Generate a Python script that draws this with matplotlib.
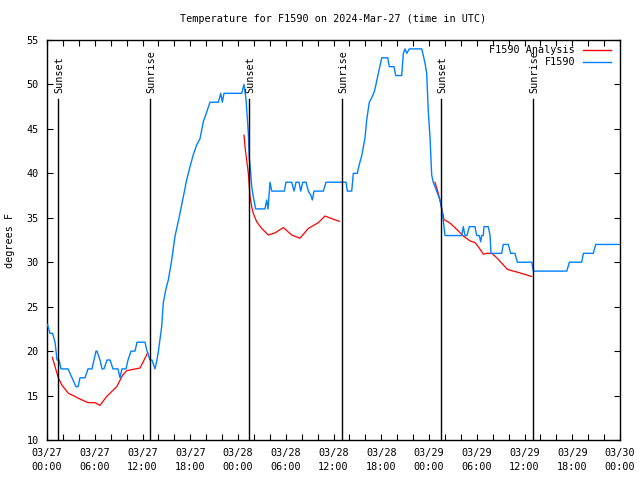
import numpy as np
import matplotlib
matplotlib.use("Agg")
import matplotlib.pyplot as plt
from matplotlib.lines import Line2D

# ---- data (hours since 2024-03-27 00:00 UTC) ----
obs_hours = [0.06, 0.38, 0.69, 1.01, 1.26, 1.51, 1.76, 2.64, 3.14, 3.64, 3.90, 4.15, 4.78,
             5.15, 5.65, 6.16, 6.28, 6.66, 6.91, 7.16, 7.54, 7.92, 8.29, 8.92, 9.17, 9.42,
             9.68, 9.93, 10.18, 10.56, 11.06, 11.31, 12.31, 12.57, 12.94, 13.19, 13.57, 13.82,
             14.00, 14.41, 14.61, 14.92, 15.24, 15.67, 16.08, 16.71, 17.13, 17.55, 17.97,
             18.38, 18.81, 19.23, 19.64, 20.07, 20.48, 21.53, 21.83, 22.03, 22.24, 24.47,
             24.76, 25.01, 25.15, 25.30, 25.42, 25.60, 25.72, 25.92, 26.22, 27.39, 27.60,
             27.77, 28.02, 28.24, 29.82, 30.03, 30.75, 31.04, 31.29, 31.67, 31.88, 32.13,
             32.55, 32.84, 33.17, 33.34, 33.55, 34.72, 35.06, 37.57, 37.74, 38.29, 38.49,
             38.99, 39.24, 39.55, 39.96, 40.17, 40.50, 40.80, 41.13, 41.34, 41.63, 42.06,
             42.81, 43.01, 43.60, 43.82, 44.57, 44.77, 44.99, 45.20, 45.53, 47.09, 47.50,
             47.71, 47.91, 48.13, 48.34, 48.54, 48.75, 48.97, 49.17, 49.38, 49.60, 49.80,
             50.01, 52.11, 52.31, 52.52, 52.77, 53.06, 53.78, 53.99, 54.32, 54.49, 54.62,
             54.82, 54.91, 55.45, 55.67, 55.79, 57.13, 57.33, 57.96, 58.26, 58.80, 59.10,
             60.91, 61.11, 65.31, 65.64, 67.19, 67.40, 68.65, 68.95, 72.00]
obs_temp = [23, 22, 22, 21, 19, 19, 18, 18, 17, 16, 16, 17, 17,
            18, 18, 20, 20, 19, 18, 18, 19, 19, 18, 18, 17, 18,
            18, 18, 19, 20, 20, 21, 21, 20, 19, 19, 18, 19,
            20, 22.75, 25.4, 26.9, 28, 30.25, 32.9, 35.5, 37.4, 39.25, 40.75,
            42.1, 43.2, 43.9, 45.8, 46.9, 48, 48, 49, 48, 49, 49,
            50, 48.3, 46.5, 44.5, 41.7, 40, 38.5, 37.4, 36, 36, 37,
            36, 39, 38, 38, 39, 39, 38, 39, 39, 38, 39,
            39, 38, 37.5, 37, 38, 38, 39, 39, 38, 38, 40,
            40, 41, 42, 44, 46, 48, 48.5, 49.2, 50, 51.25, 53,
            53, 52, 52, 51, 51, 53.5, 54, 53.5, 54, 54, 52.4,
            51.25, 47, 44, 39.8, 39, 38.5, 38, 37.5, 37, 36, 34.6,
            33, 33, 34, 33, 33, 34, 34, 33, 33, 32.3, 33,
            33, 34, 34, 33, 31, 31, 32, 32, 31, 31, 30,
            30, 29, 29, 30, 30, 31, 31, 32, 32]

ana_hours = [0.67, 1.42, 1.85, 2.68, 3.30, 4.15, 5.19, 6.03, 6.66, 7.50, 8.76, 9.51, 10.01,
             11.69, 12.65, np.nan,
             24.75, 24.88, 25.09, 25.30, 25.51, 25.72, 25.92, 26.35, 26.98, 27.81, 28.65,
             29.69, 30.75, 31.79, 32.84, 34.09, 34.93, 35.78, 36.73, np.nan,
             48.75, 49.17, 49.47, 49.72, 49.89, 50.64, 51.48, 52.31, 53.15, 53.78, 54.20,
             54.83, 55.25, 55.88, 56.51, 57.14, 57.84, 58.60, 59.44, 60.28, 60.91]
ana_temp = [19.3, 17.0, 16.2, 15.25, 15.0, 14.6, 14.2, 14.2, 13.9, 14.9, 16.0, 17.3, 17.8,
            18.1, 19.8, np.nan,
            44.3, 43.0, 41.5, 40.0, 37.4, 36.25, 35.5, 34.56, 33.8, 33.06, 33.3,
            33.9, 33.06, 32.7, 33.8, 34.45, 35.2, 34.9, 34.6, np.nan,
            39.0, 37.75, 36.6, 35.5, 34.8, 34.4, 33.7, 32.95, 32.4, 32.2, 31.75,
            30.9, 31.0, 31.0, 30.5, 29.9, 29.2, 29.0, 28.8, 28.56, 28.4]

event_hours = [1.38, 12.94, 25.38, 37.07, 49.51, 61.07]
event_names = ["Sunset", "Sunrise", "Sunset", "Sunrise", "Sunset", "Sunrise"]

tick_hours = list(range(0, 73, 6))
tick_labels = ["03/27\n00:00", "03/27\n06:00", "03/27\n12:00", "03/27\n18:00",
               "03/28\n00:00", "03/28\n06:00", "03/28\n12:00", "03/28\n18:00",
               "03/29\n00:00", "03/29\n06:00", "03/29\n12:00", "03/29\n18:00",
               "03/30\n00:00"]

FONT = "DejaVu Sans Mono"
FS = 7.3
BLUE = "#0080ff"
RED = "#ff0000"

fig = plt.figure(figsize=(6.4, 4.8), dpi=100)
ax = fig.add_axes([47/640, 1-440/480, (620-47)/640, 400/480])

ax.plot(ana_hours, ana_temp, color=RED, lw=0.9, zorder=2)
ax.plot(obs_hours, obs_temp, color=BLUE, lw=1.0, zorder=3)

for h, name in zip(event_hours, event_names):
    ax.plot([h, h], [0, 0.852], color="black", lw=1.0, zorder=4,
            transform=ax.get_xaxis_transform())
    ax.text(h + 0.2, 0.868, name, rotation=90, ha="center", va="bottom",
            fontsize=FS, family=FONT, transform=ax.get_xaxis_transform())

ax.set_xlim(0, 72)
ax.set_ylim(10, 55)
ax.set_xticks(tick_hours)
ax.set_xticklabels(tick_labels, family=FONT, fontsize=FS, linespacing=1.45)
ax.set_xticks(list(range(0, 73, 2)), minor=True)
ax.set_yticks(range(10, 56, 5))
ax.set_yticklabels([str(v) for v in range(10, 56, 5)], family=FONT, fontsize=FS)
ax.tick_params(which="both", direction="in", top=True, right=True, length=4, width=0.8)
ax.tick_params(axis="x", pad=6)
ax.tick_params(axis="y", pad=6)
for s in ax.spines.values():
    s.set_linewidth(1.0)

ax.set_ylabel("degrees F", family=FONT, fontsize=FS, labelpad=8)
fig.text(333/640, 1-19/480, "Temperature for F1590 on 2024-Mar-27 (time in UTC)",
         ha="center", va="center", family=FONT, fontsize=FS)

# key (top right)
for i, (lab, col) in enumerate([("F1590 Analysis", RED), ("F1590", BLUE)]):
    yy = 1 - (50 + 12*i)/480
    fig.text(575/640, yy, lab, ha="right", va="center", family=FONT, fontsize=FS)
    fig.add_artist(Line2D([583/640, 611/640], [yy, yy], color=col, lw=1.0,
                          transform=fig.transFigure))

fig.savefig("out.png", dpi=100)
